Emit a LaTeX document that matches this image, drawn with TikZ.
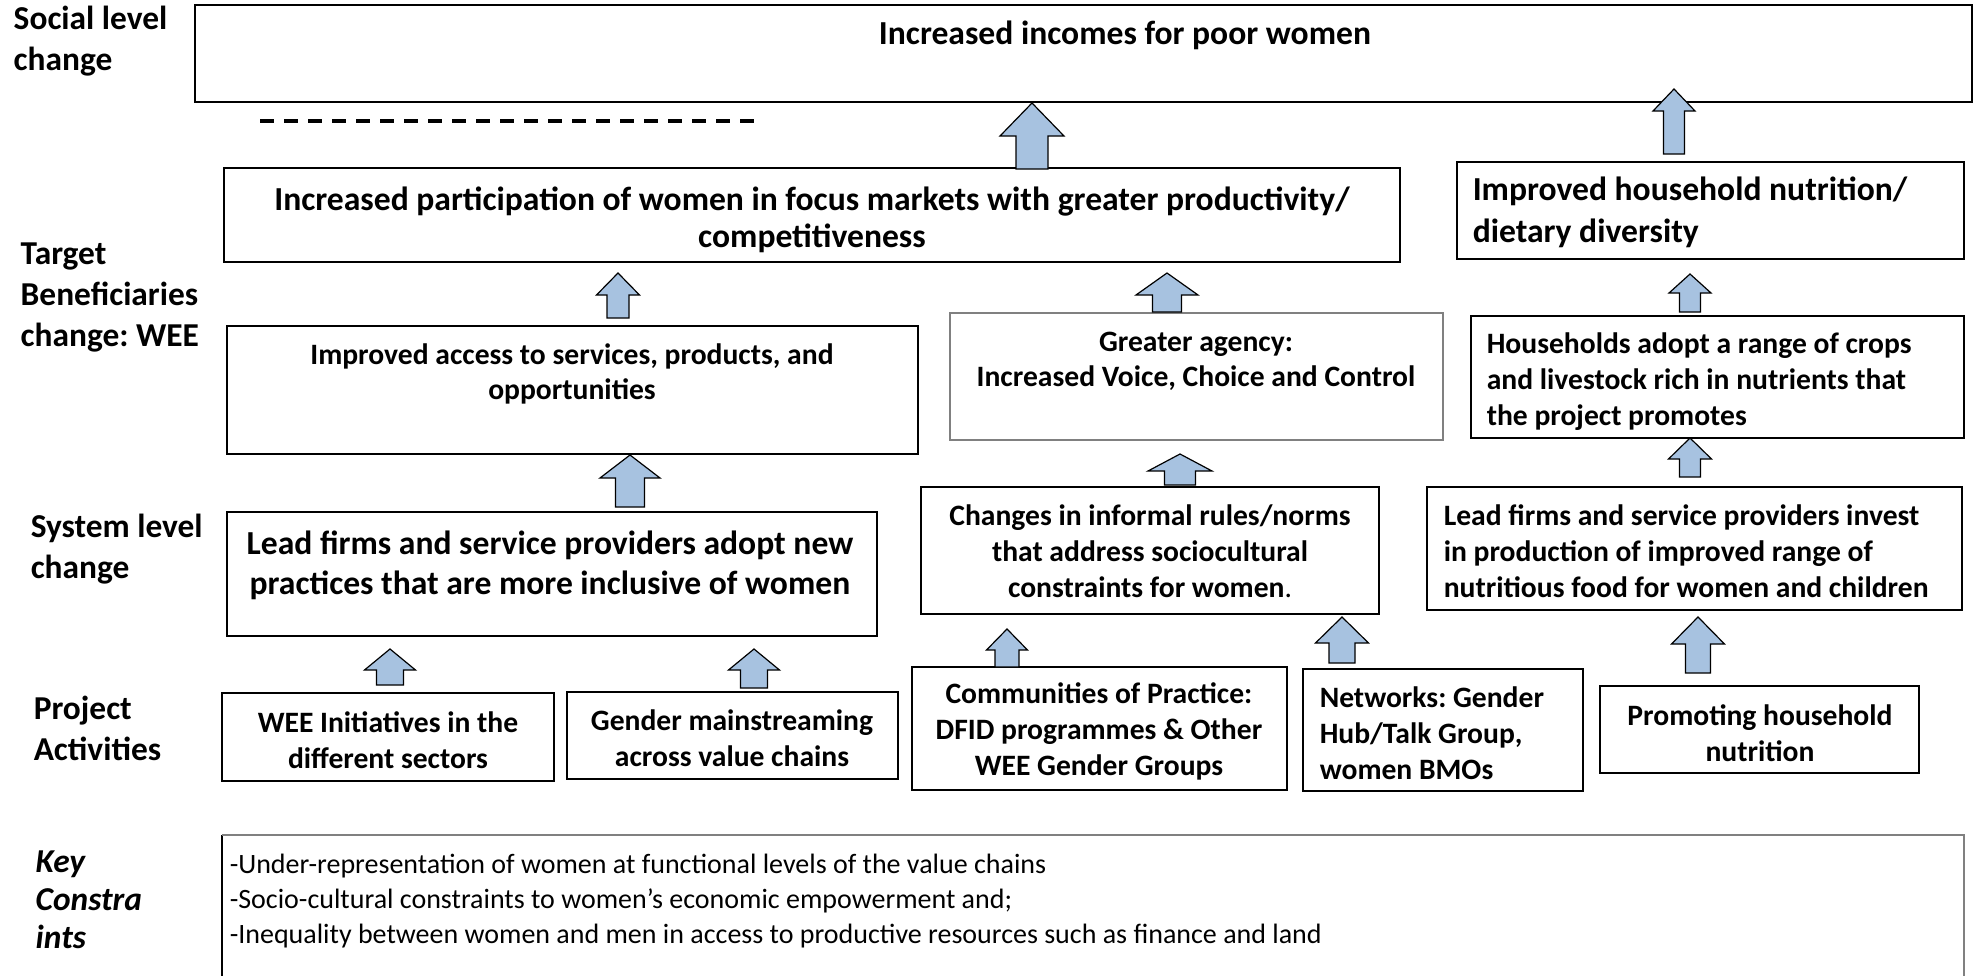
\documentclass[tikz,border=0pt]{standalone}
\usepackage{fontspec}
\setmainfont{Carlito}
\frenchspacing

\tikzset{every picture/.style={line width=0.75pt}}
\tikzset{
  box/.style={draw=black, line width=0.9pt},
  greybox/.style={draw={rgb,255:red,128;green,128;blue,128}, line width=0.7pt},
  uparr/.style={draw=black, fill={rgb,255:red,167;green,194;blue,224}, line width=0.6pt, line join=miter},
  lvl/.style={inner sep=0pt, anchor=west, align=left, font=\bfseries\fontsize{16.7}{20.5}\selectfont},
  txt/.style={inner sep=0pt, align=center, font=\bfseries\fontsize{14.8}{18}\selectfont},
}

% up block arrow: x, bottom y, head base y, tip y, head half width, shaft half width
\newcommand{\blockup}[6]{%
  \draw[uparr] (#1-#6,#2) -- (#1-#6,#3) -- (#1-#5,#3) -- (#1,#4) -- (#1+#5,#3) -- (#1+#6,#3) -- (#1+#6,#2) -- cycle ;}

\begin{document}
\begin{tikzpicture}[x=0.5pt,y=0.5pt,yscale=-1,xscale=1]
\useasboundingbox (0,0) rectangle (1981,975);

%Level labels
\node[lvl] (lblsoc) at (13,41.5) {Social level\\change};
\node[lvl] (lbltgt) at (20,297.5) {Target\\Beneficiaries\\change: WEE};
\node[lvl] (lblsys) at (30,549.5) {System level\\change};
\node[lvl] (lblproj) at (33,728.5) {Project\\Activities};
\node[lvl, font=\bfseries\itshape\fontsize{16.7}{19}\selectfont] (lblkey) at (35,900) {Key\\Constra\\ints};

%Shape: Rectangle - social level
\draw[box] (195,5) rectangle (1972,102) ;
\node[txt, font=\bfseries\fontsize{16.8}{20}\selectfont] (income) at (1125,35) {Increased incomes for poor women};

%Straight Lines - dashed
\draw[line width=1.6pt, dash pattern={on 7pt off 5pt}] (260,121) -- (763,121) ;

%Shape: Rectangle - target beneficiaries
\draw[box] (224,168) rectangle (1400,262) ;
\node[txt, font=\bfseries\fontsize{16.8}{18.5}\selectfont] (partic) at (812,219.5) {Increased participation of women in focus markets with greater productivity/\\competitiveness};
\draw[box] (1457,162) rectangle (1964,259) ;
\node[txt, anchor=west, align=left, font=\bfseries\fontsize{16.8}{21}\selectfont] (nutri) at (1472,212) {Improved household nutrition/\\dietary diversity};

\draw[box] (227,326) rectangle (918,454) ;
\node[txt, font=\bfseries\fontsize{14.8}{17.5}\selectfont] (access) at (572,373.5) {Improved access to services, products, and\\opportunities};
\draw[greybox] (950,313) rectangle (1443,440) ;
\node[txt, font=\bfseries\fontsize{14.8}{17.5}\selectfont] (agency) at (1196,361.5) {Greater agency:\\Increased Voice, Choice and Control};
\draw[box] (1471,316) rectangle (1964,438) ;
\node[txt, anchor=west, align=left] (crops) at (1486,382) {Households adopt a range of crops\\and livestock rich in nutrients that\\the project promotes};

%Shape: Rectangle - system level
\draw[box] (227,512) rectangle (877,636) ;
\node[txt, font=\bfseries\fontsize{16.8}{20}\selectfont] (adopt) at (550,565.5) {Lead firms and service providers adopt new\\practices that are more inclusive of women};
\draw[box] (921,487) rectangle (1379,614) ;
\node[txt] (norms) at (1150,551) {Changes in informal rules/norms\\that address sociocultural\\constraints for women\textmd{.}};
\draw[box] (1427,487) rectangle (1962,610) ;
\node[txt, anchor=west, align=left] (invest) at (1443,551) {Lead firms and service providers invest\\in production of improved range of\\nutritious food for women and children};

%Shape: Rectangle - project activities
\draw[box] (222,693) rectangle (554,781) ;
\node[txt] (wee) at (388,740) {WEE Initiatives in the\\different sectors};
\draw[box] (567,692) rectangle (898,779) ;
\node[txt] (gender) at (732,738.5) {Gender mainstreaming\\across value chains};
\draw[box] (912,667) rectangle (1287,790) ;
\node[txt] (cop) at (1099,731.5) {Communities of Practice:\\DFID programmes \& Other\\WEE Gender Groups};
\draw[box] (1303,669) rectangle (1583,791) ;
\node[txt, anchor=west, align=left] (netw) at (1319,733.5) {Networks: Gender\\Hub/Talk Group,\\women BMOs};
\draw[box] (1600,686) rectangle (1919,773) ;
\node[txt] (promo) at (1760,733) {Promoting household\\nutrition};

%Shape: key constraints
\draw[line width=0.9pt] (222,990) -- (222,835) ;
\draw[greybox, line width=0.9pt] (222,835) -- (1964,835) -- (1964,990) ;
\node[txt, anchor=west, align=left, font=\fontsize{14}{17.5}\selectfont] (constr) at (229,901.5) {-Under-representation of women at functional levels of the value chains\\-Socio-cultural constraints to women's economic empowerment and;\\-Inequality between women and men in access to productive resources such as finance and land};

%Up Arrows
\blockup{1032}{169}{136}{103}{32}{16}
\blockup{1674}{154}{111}{89}{21}{10.5}
\blockup{1167}{312}{295}{273}{31}{14.5}
\blockup{1690}{312}{293}{274}{21}{10.5}
\blockup{618}{318}{295}{273}{21.5}{11}
\blockup{1690}{477}{459}{438}{21.5}{10.5}
\blockup{1180}{485}{471}{454}{32}{15.5}
\blockup{630}{507}{478}{455}{30}{14.5}
\blockup{390}{685}{670}{649}{25.5}{13.5}
\blockup{754}{688}{670}{649}{25.5}{13.5}
\blockup{1007}{667}{650}{629}{20.5}{12}
\blockup{1342}{663}{643}{617}{26.5}{13}
\blockup{1698}{673}{644}{617}{26.5}{12.5}

\end{tikzpicture}
\end{document}
